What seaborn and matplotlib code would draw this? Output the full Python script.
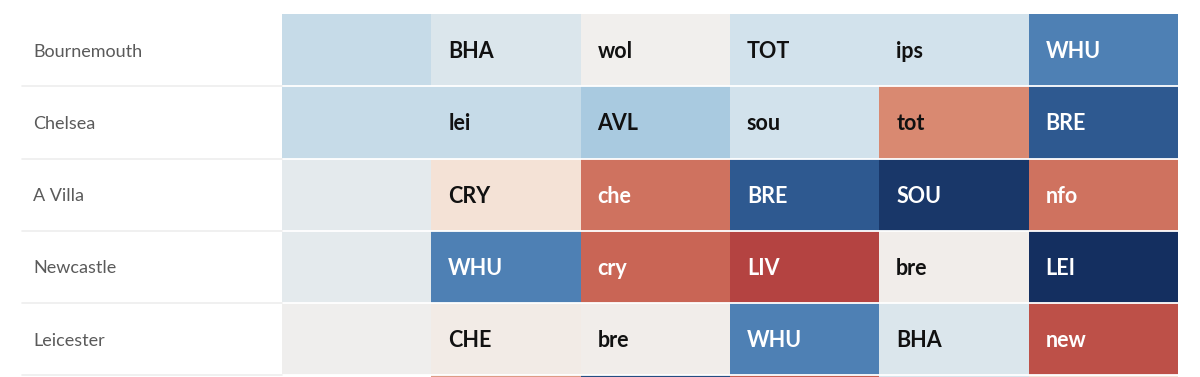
import numpy as np
import pandas as pd
import seaborn as sns
import matplotlib.pyplot as plt
from matplotlib.colors import LinearSegmentedColormap

# --- data -------------------------------------------------------------------
teams = ["Bournemouth", "Chelsea", "A Villa", "Newcastle", "Leicester", ""]
weeks = ["w0", "w1", "w2", "w3", "w4", "w5"]

# fixture difficulty score per cell (negative = hard/red, positive = easy/blue)
difficulty = [
    [1.3, 0.7, 0.0, 1.0, 1.0, 3.0],
    [1.3, 1.3, 2.0, 1.0, -2.0, 4.0],
    [0.4, -1.0, -2.5, 4.0, 4.8, -2.5],
    [0.4, 3.0, -2.8, -3.8, -0.1, 5.0],
    [0.05, -0.3, -0.1, 3.0, 0.7, -3.4],
    [np.nan, -1.8, 4.3, -2.9, 0.8, -1.0],
]
opponents = [
    ["", "BHA", "wol", "TOT", "ips", "WHU"],
    ["", "lei", "AVL", "sou", "tot", "BRE"],
    ["", "CRY", "che", "BRE", "SOU", "nfo"],
    ["", "WHU", "cry", "LIV", "bre", "LEI"],
    ["", "CHE", "bre", "WHU", "BHA", "new"],
    ["", "", "", "", "", ""],
]

df = pd.DataFrame(difficulty, index=teams, columns=weeks)

# --- colours ----------------------------------------------------------------
stops = ["#b03e3e", "#c55c4e", "#d98a72", "#f4e2d6", "#f1efed",
         "#d2e2ec", "#a9cae0", "#4f81b5", "#2e5a91", "#142f60"]
cmap = LinearSegmentedColormap.from_list("fdr", stops)
vmin, vmax = -4, 5

sns.set_theme(style="white")
plt.rcParams["font.family"] = ["Lato", "DejaVu Sans"]

fig = plt.figure(figsize=(12, 3.77), dpi=100)
top_px, row_px = 14, 72.3
ax = fig.add_axes([282 / 1200, 1 - (top_px + 6 * row_px) / 377,
                   896 / 1200, 6 * row_px / 377])

sns.heatmap(df, ax=ax, cmap=cmap, vmin=vmin, vmax=vmax, cbar=False,
            linewidths=0, xticklabels=False, yticklabels=False)

# white gaps between rows
for r in range(1, len(teams)):
    ax.axhline(r, color="white", lw=1.3)

# opponent labels
for r, row in enumerate(opponents):
    for c, lab in enumerate(row):
        if not lab:
            continue
        v = difficulty[r][c]
        col = "white" if (v >= 2.6 or v <= -2.4) else "#111111"
        ax.text(c + 0.113, r + 0.52, lab, ha="left", va="center",
                fontsize=15.5, fontweight="bold", color=col)

# team names and separators on the left
for r, name in enumerate(teams):
    ax.text(-1.667, r + 0.52, name, ha="left", va="center",
            fontsize=13, color="#5a5a5a", clip_on=False)
for r in range(1, len(teams)):
    ax.plot([-1.74, 0], [r, r], color="#eeeeee", lw=1.2, clip_on=False)

ax.set_xlabel("")
ax.set_ylabel("")
ax.set_ylim(6, 0)

fig.savefig("out.png", dpi=100, facecolor="white")
